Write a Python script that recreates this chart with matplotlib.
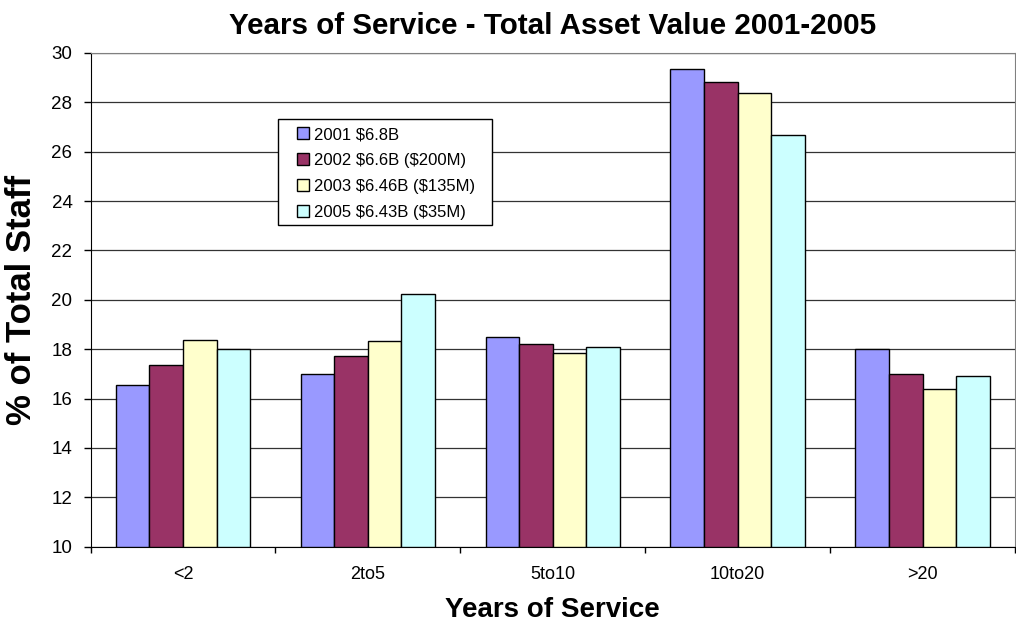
import matplotlib.pyplot as plt
from matplotlib.patches import Rectangle
import numpy as np

plt.rcParams['font.family'] = ['Liberation Sans', 'DejaVu Sans']

categories = ["<2", "2to5", "5to10", "10to20", ">20"]
series_names = [r"2001 \$6.8B", r"2002 \$6.6B (\$200M)", r"2003 \$6.46B (\$135M)", r"2005 \$6.43B (\$35M)"]
v2001 = [16.53, 16.99, 18.49, 29.33, 18.01]
v2002 = [17.37, 17.73, 18.23, 28.83, 16.99]
v2003 = [18.38, 18.33, 17.83, 28.39, 16.37]
v2005 = [18.02, 20.23, 18.07, 26.67, 16.90]
colors = ["#9999FF", "#993366", "#FFFFCC", "#CCFFFF"]

fig = plt.figure(figsize=(10.16, 6.23), dpi=100)
ax = fig.add_axes([0.0891, 0.1225, 0.9099, 0.7925])

x = np.arange(len(categories))
w = 1 / 5.5
for i, vals in enumerate([v2001, v2002, v2003, v2005]):
    ax.bar(x + (i - 1.5) * w, [v - 10 for v in vals], w, bottom=10,
           color=colors[i], edgecolor="black", linewidth=1.0,
           label=series_names[i], zorder=3)

ax.set_xlim(-0.5, len(categories) - 0.5)
ax.set_ylim(10, 30)
ax.set_yticks(range(10, 31, 2))
ax.yaxis.grid(True, color="#333333", linewidth=0.9, zorder=0)
ax.set_axisbelow(True)

ax.set_xticks(x)
ax.set_xticklabels(categories, fontsize=13)
ax.set_xticks(np.arange(-0.5, len(categories), 1), minor=True)
ax.tick_params(axis="x", which="major", length=0, pad=14)
ax.tick_params(axis="x", which="minor", length=4, width=1, direction="out")
ax.tick_params(axis="y", labelsize=13.5, length=5, width=1, pad=8)

ax.spines["left"].set_color("black")
ax.spines["bottom"].set_color("black")
ax.spines["top"].set_color("#808080")
ax.spines["right"].set_color("#808080")

ax.set_title("Years of Service - Total Asset Value 2001-2005",
             fontsize=21.3, fontweight="bold", pad=14)
ax.set_xlabel("Years of Service", fontsize=20, fontweight="bold", labelpad=10)
ax.set_ylabel("% of Total Staff", fontsize=25, fontweight="bold", labelpad=10)

# legend box drawn separately so the padding matches the original
ax.add_patch(Rectangle((0.2028, 0.6516), 0.2315, 0.2147, transform=ax.transAxes,
                       facecolor="white", edgecolor="black", linewidth=1.0, zorder=5))
leg = ax.legend(loc="upper left", bbox_to_anchor=(0.2234, 0.850), borderaxespad=0,
                fontsize=12, frameon=False,
                handlelength=0.7, handleheight=0.7, handletextpad=0.3,
                labelspacing=0.65, borderpad=0)
leg.set_zorder(6)

plt.savefig("out.png", dpi=100)
